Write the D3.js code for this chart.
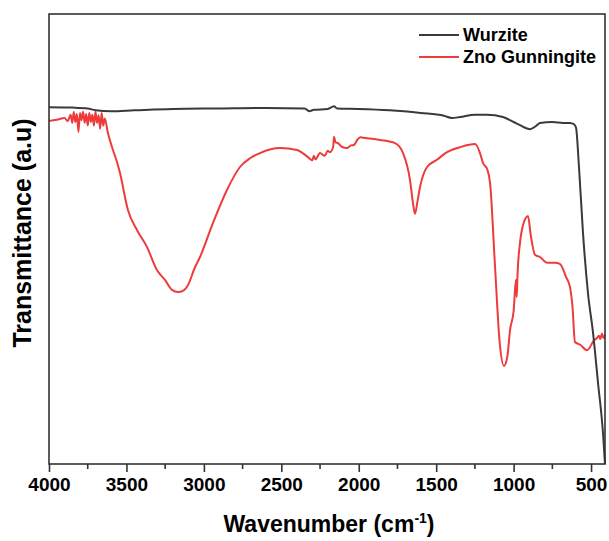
<!DOCTYPE html>
<html>
<head>
<meta charset="utf-8">
<script src="https://cdn.jsdelivr.net/npm/d3@7"></script>
<style>
  html, body { margin: 0; padding: 0; background: #fff; }
  text { font-family: "Liberation Sans", Arial, sans-serif; font-weight: bold; fill: #000; }
</style>
</head>
<body>
<svg id="chart" width="609" height="541"></svg>
<script>
// wavenumber (cm-1), transmittance (arbitrary 0-100)
var wurziteWn = [4000, 3850, 3750, 3700, 3600, 3450, 3200, 2900, 2600, 2350, 2320, 2290, 2200, 2160, 2140, 2000, 1800, 1600, 1450, 1400, 1346, 1250, 1172, 1069, 1000, 959, 894, 860, 830, 750, 680, 636, 610, 597, 578, 552, 520, 487, 455, 423, 410];
var wurziteT = [79.3, 79.2, 79.0, 78.6, 78.4, 78.6, 78.9, 79.0, 79.1, 79.0, 78.4, 78.7, 78.9, 79.5, 79.0, 78.9, 78.6, 78.0, 77.4, 76.9, 77.1, 77.6, 77.6, 77.1, 76.0, 75.3, 74.4, 75.0, 75.8, 76.0, 75.8, 75.8, 75.5, 74.7, 66.0, 51.3, 38.0, 29.1, 18.0, 6.9, 0];

var gunnWn = [4000, 3950, 3900, 3880, 3860, 3850, 3840, 3830, 3820, 3810, 3800, 3790, 3780, 3770, 3760, 3750, 3740, 3730, 3720, 3710, 3700, 3690, 3680, 3670, 3660, 3650, 3640, 3620, 3593, 3560, 3542, 3490, 3432, 3367, 3303, 3251, 3206, 3167, 3130, 3102, 3060, 3025, 2941, 2851, 2767, 2700, 2638, 2509, 2399, 2328, 2300, 2290, 2280, 2250, 2220, 2200, 2186, 2165, 2160, 2150, 2134, 2110, 2076, 2050, 2031, 2010, 1990, 1972, 1900, 1863, 1766, 1714, 1669, 1650, 1637, 1620, 1604, 1559, 1495, 1430, 1346, 1249, 1217, 1198, 1170, 1152, 1120, 1090, 1062, 1040, 1023, 1000, 985, 980, 975, 959, 940, 907, 890, 862, 830, 784, 733, 700, 662, 636, 620, 604, 570, 526, 480, 462, 450, 440, 430, 420, 410];
var gunnT = [76.2, 76.5, 76.9, 76.2, 77.6, 75.8, 78.2, 76.0, 77.8, 73.8, 78.0, 76.4, 78.3, 75.8, 77.8, 75.2, 78.0, 76.0, 77.6, 75.2, 78.3, 75.8, 77.5, 74.5, 78.0, 75.2, 76.8, 73.6, 70.4, 67.0, 64.7, 56.4, 52.0, 48.2, 43.1, 40.9, 38.7, 38.2, 38.6, 39.8, 43.5, 46.0, 53.6, 60.9, 66.0, 68.0, 69.1, 70.2, 69.8, 68.2, 67.5, 68.5, 67.7, 69.1, 68.5, 69.6, 69.3, 70.5, 72.7, 71.5, 71.3, 70.5, 70.2, 70.8, 70.9, 72.0, 72.6, 72.5, 72.2, 72.0, 71.3, 69.1, 63.1, 58.0, 55.6, 58.5, 61.6, 66.0, 67.6, 69.3, 70.4, 71.1, 69.1, 66.9, 65.5, 62.4, 43.8, 27.0, 21.8, 24.0, 29.8, 34.0, 40.9, 37.1, 42.0, 49.1, 53.0, 55.1, 51.0, 46.5, 46.0, 44.7, 44.7, 44.4, 41.6, 39.3, 35.0, 27.1, 26.5, 25.3, 27.5, 28.0, 28.5, 27.8, 29.0, 28.0, 28.7];

var majorTicks = [4000, 3500, 3000, 2500, 2000, 1500, 1000, 500];
var minorTicks = [3750, 3250, 2750, 2250, 1750, 1250, 750];
var seriesNames = ['Wurzite', 'Zno Gunningite'];
var seriesColors = ['#3a3a3a', '#ee3b3b'];

(function() {
    var svg = d3.select('#chart');
    var plotLeft = 49, plotRight = 605, plotTop = 14, plotBottom = 464;

    var x = d3.scaleLinear().domain([4000, 410]).range([plotLeft, plotRight]);
    var y = d3.scaleLinear().domain([0, 100]).range([plotBottom, plotTop]);

    var line = d3.line()
        .x(function(d) { return x(d[0]); })
        .y(function(d) { return y(d[1]); })
        .curve(d3.curveMonotoneX);

    var series = [
        d3.zip(wurziteWn, wurziteT),
        d3.zip(gunnWn, gunnT)
    ];

    // red first so the dark line sits on top where they cross
    [1, 0].forEach(function(i) {
        svg.append('path')
            .datum(series[i])
            .attr('fill', 'none')
            .attr('stroke', seriesColors[i])
            .attr('stroke-width', 2)
            .attr('stroke-linejoin', 'round')
            .attr('d', line);
    });

    // frame
    svg.append('rect')
        .attr('x', plotLeft).attr('y', plotTop)
        .attr('width', plotRight - plotLeft).attr('height', plotBottom - plotTop)
        .attr('fill', 'none')
        .attr('stroke', '#333')
        .attr('stroke-width', 1.6);

    // bottom axis
    var xAxis = d3.axisBottom(x)
        .tickValues(majorTicks)
        .tickSize(8)
        .tickSizeOuter(0)
        .tickFormat(d3.format('d'));
    var gx = svg.append('g')
        .attr('transform', 'translate(0,' + plotBottom + ')')
        .call(xAxis);
    gx.select('.domain').remove();
    gx.selectAll('.tick line').attr('stroke', '#333').attr('stroke-width', 1.6);
    gx.selectAll('.tick text')
        .attr('y', 14)
        .style('font-size', '19px')
        .style('font-family', '"Liberation Sans", Arial, sans-serif')
        .style('font-weight', 'bold')
        .attr('fill', '#000');

    svg.append('g').selectAll('line')
        .data(minorTicks)
        .enter().append('line')
        .attr('x1', function(d) { return x(d); })
        .attr('x2', function(d) { return x(d); })
        .attr('y1', plotBottom)
        .attr('y2', plotBottom + 5)
        .attr('stroke', '#333')
        .attr('stroke-width', 1.6);

    // axis titles
    var xt = svg.append('text')
        .attr('x', (plotLeft + plotRight) / 2 + 2)
        .attr('y', 532)
        .attr('text-anchor', 'middle')
        .style('font-size', '23px');
    xt.append('tspan').text('Wavenumber (cm');
    xt.append('tspan').attr('dy', -9).style('font-size', '14px').text('-1');
    xt.append('tspan').attr('dy', 9).text(')');

    svg.append('text')
        .attr('transform', 'translate(31,233) rotate(-90)')
        .attr('text-anchor', 'middle')
        .style('font-size', '25px')
        .text('Transmittance (a.u)');

    // legend
    var legend = svg.append('g');
    seriesNames.forEach(function(name, i) {
        var ly = 35 + i * 22;
        legend.append('line')
            .attr('x1', 419).attr('x2', 459)
            .attr('y1', ly).attr('y2', ly)
            .attr('stroke', seriesColors[i])
            .attr('stroke-width', 2);
        legend.append('text')
            .attr('x', 463)
            .attr('y', ly + 6)
            .style('font-size', '18px')
            .text(name);
    });
})();
</script>
</body>
</html>
